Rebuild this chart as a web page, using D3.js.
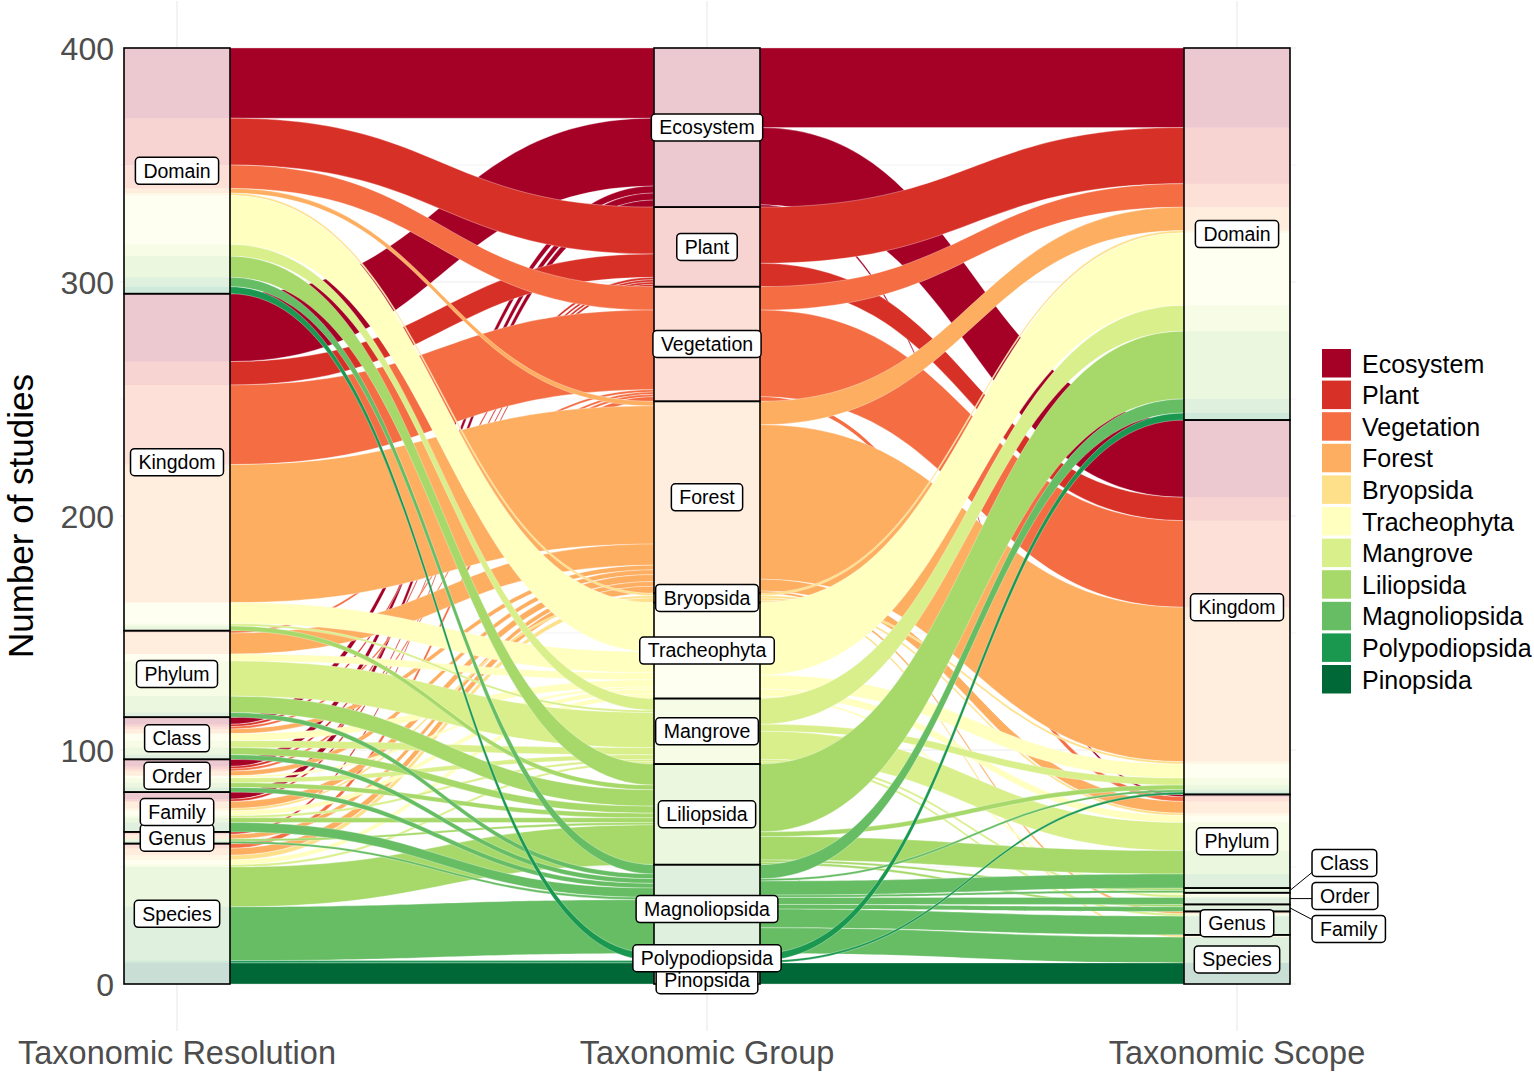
<!DOCTYPE html>
<html><head><meta charset="utf-8">
<script src="https://cdn.jsdelivr.net/npm/d3@7"></script>
<style>
body{margin:0;background:#fff}
svg{display:block}
text{font-family:"Liberation Sans",Arial,Helvetica,sans-serif}
</style>
</head><body>
<svg id="chart" width="1534" height="1072"></svg>
<script>
// ---------- data ----------
const axisTitles = ["Taxonomic Resolution", "Taxonomic Group", "Taxonomic Scope"];
const resolution = ["Domain","Kingdom","Phylum","Class","Order","Family","Genus","Species"];
const groups = ["Ecosystem","Plant","Vegetation","Forest","Bryopsida","Tracheophyta","Mangrove","Liliopsida","Magnoliopsida","Polypodiopsida","Pinopsida"];
const scope = ["Domain","Kingdom","Phylum","Class","Order","Family","Genus","Species"];
const groupColors = ["#a50026","#d73027","#f46d43","#fdae61","#fee08b","#ffffbf","#d9ef8b","#a6d96a","#66bd63","#1a9850","#006837"];
const yTicks = [0,100,200,300,400];
const yMinorTicks = [50,150,250,350];

// number of studies: rows = taxonomic resolution, columns = taxonomic group
const resolutionByGroup = [
  [30,20,10, 2,1,21, 5, 9, 4,3,0],  // Domain
  [29,10,34,59,0, 9, 1, 2, 0,0,0],  // Kingdom
  [ 0, 0, 1, 9,0, 3,15, 7, 2,0,0],  // Phylum
  [ 3, 1, 1, 2,0, 3, 3, 3, 2,0,0],  // Class
  [ 3, 1, 1, 2,0, 1, 2, 2, 2,0,0],  // Order
  [ 3, 1, 0, 3,1, 2, 1, 2, 4,0,0],  // Family
  [ 0, 1, 0, 2,0, 0, 0, 1, 1,0,0],  // Genus
  [ 0, 0, 2, 3,2, 2, 1,17,23,1,9]   // Species
];
// number of studies: rows = taxonomic group, columns = taxonomic scope
const groupByScope = [
  [34,33, 1,0,0,0,0, 0],  // Ecosystem
  [24,10, 0,0,0,0,0, 0],  // Plant
  [10,37, 2,0,0,0,0, 0],  // Vegetation
  [10,66, 5,0,0,0,1, 0],  // Forest
  [ 1, 1, 1,0,0,0,0, 1],  // Bryopsida
  [31, 6, 3,0,1,0,0, 0],  // Tracheophyta
  [11, 3,12,0,1,0,1, 0],  // Mangrove
  [29, 2,10,1,0,1,0, 0],  // Liliopsida
  [ 6, 1, 6,1,3,2,8,11],  // Magnoliopsida
  [ 3, 1, 0,0,0,0,0, 0],  // Polypodiopsida
  [ 0, 0, 0,0,0,0,0, 9]   // Pinopsida
];

// ---------- setup ----------
const svg = d3.select("#chart");
const y = d3.scaleLinear().domain([0,400]).range([984,48]);
const x = d3.scalePoint().domain(axisTitles).range([177,1237]);
const sw = 106;
const color = d3.scaleOrdinal().domain(groups).range(groupColors);

const leftSizes = resolutionByGroup.map(r => d3.sum(r));
const midSizes = groupByScope.map(r => d3.sum(r));
const rightSizes = scope.map((s,j) => d3.sum(groupByScope, r => r[j]));
function stack(sizes){ let top = d3.sum(sizes); return sizes.map(s => { const o = {top, bottom: top - s, size: s}; top -= s; return o; }); }
const strata = [stack(leftSizes), stack(midSizes), stack(rightSizes)];
const strataNames = [resolution, groups, scope];

// lode positions
const leftPos = {}, midLPos = {}, midRPos = {}, rightPos = {};
resolution.forEach((r,i) => { let t = strata[0][i].top; groups.forEach((g,j) => { const n = resolutionByGroup[i][j]; if(n>0){ leftPos[i+"-"+j] = {t, b:t-n}; t -= n; } }); });
groups.forEach((g,j) => { let t = strata[1][j].top; resolution.forEach((r,i) => { const n = resolutionByGroup[i][j]; if(n>0){ midLPos[i+"-"+j] = {t, b:t-n}; t -= n; } }); });
groups.forEach((g,j) => { let t = strata[1][j].top; scope.forEach((s,k) => { const n = groupByScope[j][k]; if(n>0){ midRPos[j+"-"+k] = {t, b:t-n}; t -= n; } }); });
scope.forEach((s,k) => { let t = strata[2][k].top; groups.forEach((g,j) => { const n = groupByScope[j][k]; if(n>0){ rightPos[j+"-"+k] = {t, b:t-n}; t -= n; } }); });

// ---------- grid ----------
const grid = svg.append("g");
yMinorTicks.forEach(v => grid.append("line").attr("x1",120).attr("x2",1296).attr("y1",y(v)).attr("y2",y(v)).attr("stroke","#ebebeb").attr("stroke-width",0.6));
yTicks.forEach(v => grid.append("line").attr("x1",120).attr("x2",1296).attr("y1",y(v)).attr("y2",y(v)).attr("stroke","#ebebeb").attr("stroke-width",1.2));
axisTitles.forEach(a => grid.append("line").attr("x1",x(a)).attr("x2",x(a)).attr("y1",1).attr("y2",1031).attr("stroke","#ebebeb").attr("stroke-width",1.2));

// ---------- flows ----------
function flowPath(x0,a,x1,b){
  const k = 0.5*(x1-x0);
  const y0t=y(a.t), y0b=y(a.b), y1t=y(b.t), y1b=y(b.b);
  return `M${x0},${y0t}C${x0+k},${y0t} ${x1-k},${y1t} ${x1},${y1t}L${x1},${y1b}C${x1-k},${y1b} ${x0+k},${y0b} ${x0},${y0b}Z`;
}
const flows = [];
groups.forEach((g,j) => {
  resolution.forEach((r,i) => { const key=i+"-"+j; if(leftPos[key]) flows.push({g, x0:x(axisTitles[0])+sw/2, a:leftPos[key], x1:x(axisTitles[1])-sw/2, b:midLPos[key]}); });
  scope.forEach((s,k) => { const key=j+"-"+k; if(midRPos[key]) flows.push({g, x0:x(axisTitles[1])+sw/2, a:midRPos[key], x1:x(axisTitles[2])-sw/2, b:rightPos[key]}); });
});
svg.append("g").selectAll("path").data(flows).join("path")
  .attr("d", d => flowPath(d.x0,d.a,d.x1,d.b))
  .attr("fill", d => color(d.g))
  .attr("stroke","#fff").attr("stroke-width",0.45).attr("stroke-opacity",0.7);

// ---------- strata ----------
const st = svg.append("g");
const tint = [];
resolution.forEach((r,i) => groups.forEach((g,j) => { const p = leftPos[i+"-"+j]; if(p) tint.push({ax:0, g, p}); }));
groups.forEach((g,j) => tint.push({ax:1, g, p:{t:strata[1][j].top, b:strata[1][j].bottom}}));
scope.forEach((s,k) => groups.forEach((g,j) => { const p = rightPos[j+"-"+k]; if(p) tint.push({ax:2, g, p}); }));
st.selectAll("rect.bg").data([0,1,2]).join("rect").attr("class","bg")
  .attr("x", a => x(axisTitles[a]) - sw/2).attr("width", sw)
  .attr("y", y(400)).attr("height", y(0)-y(400)).attr("fill","#fff");
st.selectAll("rect.tint").data(tint).join("rect").attr("class","tint")
  .attr("x", d => x(axisTitles[d.ax]) - sw/2).attr("width", sw)
  .attr("y", d => y(d.p.t)).attr("height", d => y(d.p.b) - y(d.p.t))
  .attr("fill", d => color(d.g)).attr("fill-opacity", 0.21);
strata.forEach((arr,a) => arr.forEach(s => {
  st.append("rect").attr("x", x(axisTitles[a]) - sw/2).attr("width", sw)
    .attr("y", y(s.top)).attr("height", y(s.bottom) - y(s.top))
    .attr("fill","none").attr("stroke","#000").attr("stroke-width",1.6);
}));

// ---------- stratum labels ----------
const lab = svg.append("g");
const minGap = 22, lblH = 27, pad = 8;
const labels = [];
strata.forEach((arr,a) => {
  const list = arr.map((s,i) => ({a, name: strataNames[a][i], c: (y(s.top)+y(s.bottom))/2, size: s.size, outside: (a===2 && s.size<=5)}));
  const inside = list.filter(d => !d.outside);
  inside.forEach((d,i) => { d.ly = d.c; if(i>0 && d.ly < inside[i-1].ly + minGap) d.ly = inside[i-1].ly + minGap; d.lx = x(axisTitles[a]); });
  const out = list.filter(d => d.outside);
  if(out.length){
    const m = d3.mean(out, d => d.c) - 3, step = 33;
    out.forEach((d,i) => { d.ly = m + (i - (out.length-1)/2)*step; d.boxLeft = x(axisTitles[a]) + sw/2 + 22; });
  }
  labels.push(...list);
});
labels.slice().reverse().forEach(d => {
  const gEl = lab.append("g");
  const t = gEl.append("text").text(d.name).attr("font-size",19.5).attr("fill","#000").attr("dy","0.35em");
  const w = t.node().getComputedTextLength() + 2*pad;
  const left = d.outside ? d.boxLeft : d.lx - w/2;
  t.attr("x", left + w/2).attr("y", d.ly).attr("text-anchor","middle");
  if(d.outside){
    const sx = x(axisTitles[d.a]) + sw/2;
    const ty = Math.max(d.ly - lblH/2 + 4, Math.min(d.ly + lblH/2 - 4, d.c));
    gEl.insert("line","text").attr("x1",sx).attr("y1",d.c).attr("x2",left).attr("y2",ty).attr("stroke","#000").attr("stroke-width",1);
  }
  gEl.insert("rect","text").attr("x",left).attr("y",d.ly - lblH/2).attr("width",w).attr("height",lblH)
    .attr("rx",4).attr("fill","#fff").attr("stroke","#000").attr("stroke-width",1.5);
});

// ---------- axes ----------
const ax = svg.append("g");
yTicks.forEach(v => ax.append("text").attr("x",114).attr("y",y(v)).attr("dy","0.36em")
  .attr("text-anchor","end").attr("font-size",32).attr("fill","#4d4d4d").text(v));
axisTitles.forEach(a => ax.append("text").attr("x",x(a)).attr("y",1064)
  .attr("text-anchor","middle").attr("font-size",32.5).attr("fill","#4d4d4d").text(a));
ax.append("text").attr("transform",`translate(33,${(y(400)+y(0))/2}) rotate(-90)`)
  .attr("text-anchor","middle").attr("font-size",35).attr("fill","#000").text("Number of studies");

// ---------- legend ----------
const leg = svg.append("g").attr("transform","translate(1322,349)");
groups.forEach((g,i) => {
  const row = leg.append("g").attr("transform",`translate(0,${i*31.6})`);
  row.append("rect").attr("width",29).attr("height",28.5).attr("fill",color(g));
  row.append("text").attr("x",40).attr("y",14.5).attr("dy","0.36em").attr("font-size",25).attr("fill","#000").text(g);
});
</script>
</body></html>
